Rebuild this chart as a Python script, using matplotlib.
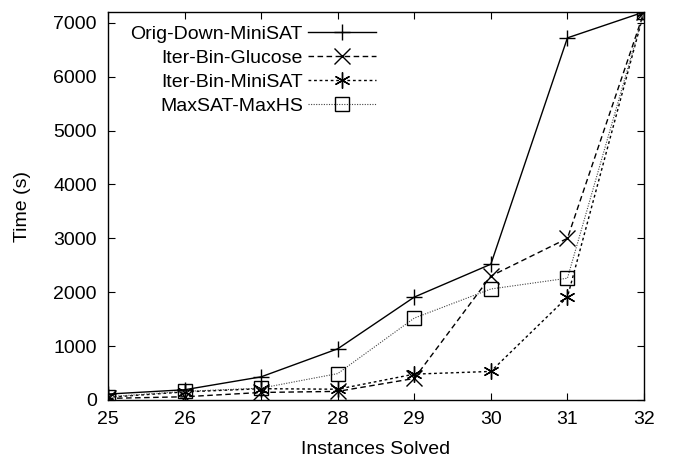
import matplotlib
matplotlib.use("Agg")
import matplotlib.pyplot as plt

plt.rcParams['font.family'] = ['Liberation Sans', 'DejaVu Sans']

instances = [25, 26, 27, 28, 29, 30, 31, 32]
orig_down_minisat = [110, 190, 430, 950, 1910, 2520, 6720, 7200]
iter_bin_glucose = [30, 60, 140, 160, 400, 2300, 3000, 7200]
iter_bin_minisat = [50, 150, 210, 200, 480, 530, 1910, 7200]
maxsat_maxhs = [60, 160, 220, 490, 1520, 2060, 2260, 7200]

labels = ["Orig-Down-MiniSAT", "Iter-Bin-Glucose", "Iter-Bin-MiniSAT", "MaxSAT-MaxHS"]
xticks = [25, 26, 27, 28, 29, 30, 31, 32]
yticks = [0, 1000, 2000, 3000, 4000, 5000, 6000, 7000]

fig = plt.figure(figsize=(6.76, 4.58), dpi=100)
ax = fig.add_axes([108/676, 1 - 400/458, (644-108)/676, (400-12)/458])

ms = 11.5
ax.plot(instances, orig_down_minisat, color='black', lw=1.0, ls='-',
        marker='+', ms=ms, mew=1.0, label=labels[0])
ax.plot(instances, iter_bin_glucose, color='black', lw=1.0, ls=(0, (4, 2.5)),
        marker='x', ms=ms*0.95, mew=1.0, label=labels[1])
ax.plot(instances, iter_bin_minisat, color='black', lw=1.0, ls=(0, (2, 2)),
        marker=(6, 2, 0), ms=ms, mew=1.0, label=labels[2])
ax.plot(instances, maxsat_maxhs, color='#444444', lw=0.8, ls=(0, (1, 1.3)),
        marker='s', ms=ms*0.9, mew=1.0, mfc='none', mec='black', label=labels[3])

ax.set_xlim(25, 32)
ax.set_ylim(0, 7200)
ax.set_xticks(xticks)
ax.set_yticks(yticks)
ax.tick_params(direction='in', length=5, width=0.8, top=True, right=True,
               labelsize=14, pad=8)
for s in ax.spines.values():
    s.set_linewidth(1.0)

ax.set_xlabel("Instances Solved", fontsize=14, labelpad=9)
ax.set_ylabel("Time (s)", fontsize=14, labelpad=16)

leg = ax.legend(loc='upper left', bbox_to_anchor=(0.02, 0.995), frameon=False,
                markerfirst=False, fontsize=14, handlelength=3.5,
                handletextpad=0.25, labelspacing=0.33, borderaxespad=0.2)

fig.savefig("out.png", dpi=100)
